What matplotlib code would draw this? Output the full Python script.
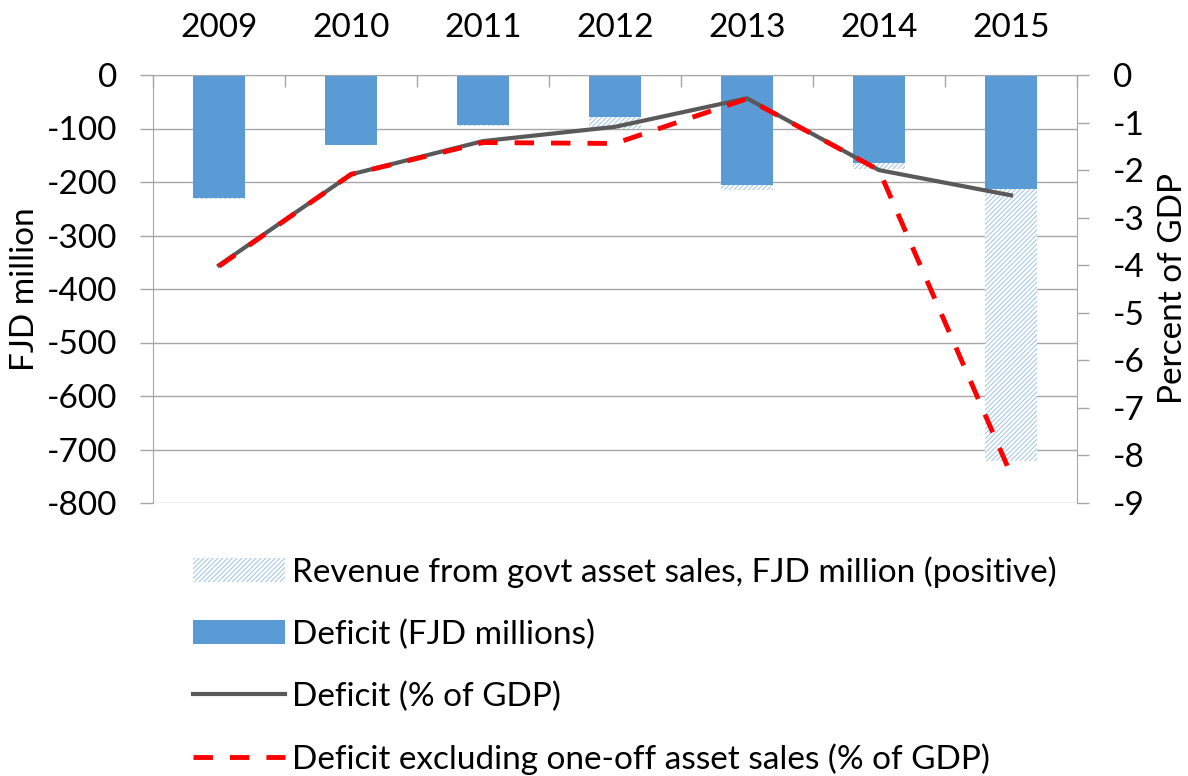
"""Fiji budget deficit chart: bars in FJD million, lines in percent of GDP."""

import matplotlib
matplotlib.use("Agg")
import matplotlib.pyplot as plt
from matplotlib.lines import Line2D
from matplotlib.patches import Patch
import numpy as np

years = ["2009", "2010", "2011", "2012", "2013", "2014", "2015"]
deficit_fjd = [-229, -131, -94, -79, -205, -164, -214]
asset_sales_fjd = [3, 0, 2, 22, 10, 12, 507]
deficit_pct = [-4.0, -2.09, -1.39, -1.09, -0.49, -2.0, -2.53]
deficit_excl_pct = [-4.02, -2.09, -1.42, -1.44, -0.5, -2.0, -8.4]

GRID = "#A6A6A6"
BLUE = "#5B9BD5"
HATCH_BLUE = "#9DC3E6"
FS = 24

plt.rcParams["font.family"] = ["Lato", "DejaVu Sans"]
plt.rcParams["axes.unicode_minus"] = False
plt.rcParams["hatch.linewidth"] = 0.7

fig = plt.figure(figsize=(11.88, 7.76), dpi=100)
ax = fig.add_axes([153 / 1188, 1 - 503 / 776, (1077 - 153) / 1188, (503 - 75) / 776])
x = np.arange(len(years))

ax.bar(x, deficit_fjd, width=0.4, color=BLUE, zorder=2)
ax.bar(x, [-v for v in asset_sales_fjd], width=0.4, bottom=deficit_fjd,
       facecolor="white", edgecolor=HATCH_BLUE, linewidth=0, hatch="///////", zorder=2)

ax.set_xlim(-0.5, len(years) - 0.5)
ax.set_ylim(-800, 0)
ax.set_yticks(np.arange(-800, 1, 100))
ax.grid(axis="y", color=GRID, linewidth=1, zorder=0)
ax.set_axisbelow(True)

# category axis sits at zero, i.e. at the top
ax.xaxis.tick_top()
ax.set_xticks(x)
ax.set_xticklabels(years)
ax.set_xticks(np.arange(-0.5, len(years)), minor=True)
ax.tick_params(axis="x", which="major", length=0, pad=23, labelsize=FS)
ax.tick_params(axis="x", which="minor", direction="in", length=8.6, color=GRID, width=1)
ax.tick_params(axis="y", length=9.4, color=GRID, width=1, pad=16, labelsize=FS)

for side in ["top", "left"]:
    ax.spines[side].set_color(GRID)
ax.spines["bottom"].set_visible(False)
ax.spines["right"].set_visible(False)
ax.set_ylabel("FJD million", fontsize=FS)
ax.yaxis.set_label_coords(-0.122, 0.5)

ax2 = ax.twinx()
ax2.plot(x, deficit_pct, color="#595959", linewidth=3, zorder=3)
ax2.plot(x, deficit_excl_pct, color="#FF0000", linewidth=3.5, dashes=(4, 3.5), zorder=4)
ax2.set_ylim(-9, 0)
ax2.set_yticks(np.arange(-9, 1, 1))
ax2.tick_params(axis="y", length=8.6, color=GRID, width=1, pad=17, labelsize=FS)
ax2.spines["right"].set_color(GRID)
for side in ["top", "left", "bottom"]:
    ax2.spines[side].set_visible(False)
ax2.set_ylabel("Percent of GDP", fontsize=FS)
ax2.yaxis.set_label_coords(1.088, 0.5)

handles = [
    Patch(facecolor="white", edgecolor=HATCH_BLUE, linewidth=0, hatch="///////"),
    Patch(facecolor=BLUE),
    Line2D([], [], color="#595959", linewidth=3),
    Line2D([], [], color="#FF0000", linewidth=3.5, dashes=(4, 3.5)),
]
labels = [
    "Revenue from govt asset sales, FJD million (positive)",
    "Deficit (FJD millions)",
    "Deficit (% of GDP)",
    "Deficit excluding one-off asset sales (% of GDP)",
]
fig.legend(handles, labels, loc="upper left", bbox_to_anchor=(193 / 1188, 1 - 556 / 776),
           frameon=False, fontsize=FS, handlelength=2.76, handletextpad=0.2,
           labelspacing=0.95, borderaxespad=0, borderpad=0)

fig.savefig("out.png", dpi=100)
